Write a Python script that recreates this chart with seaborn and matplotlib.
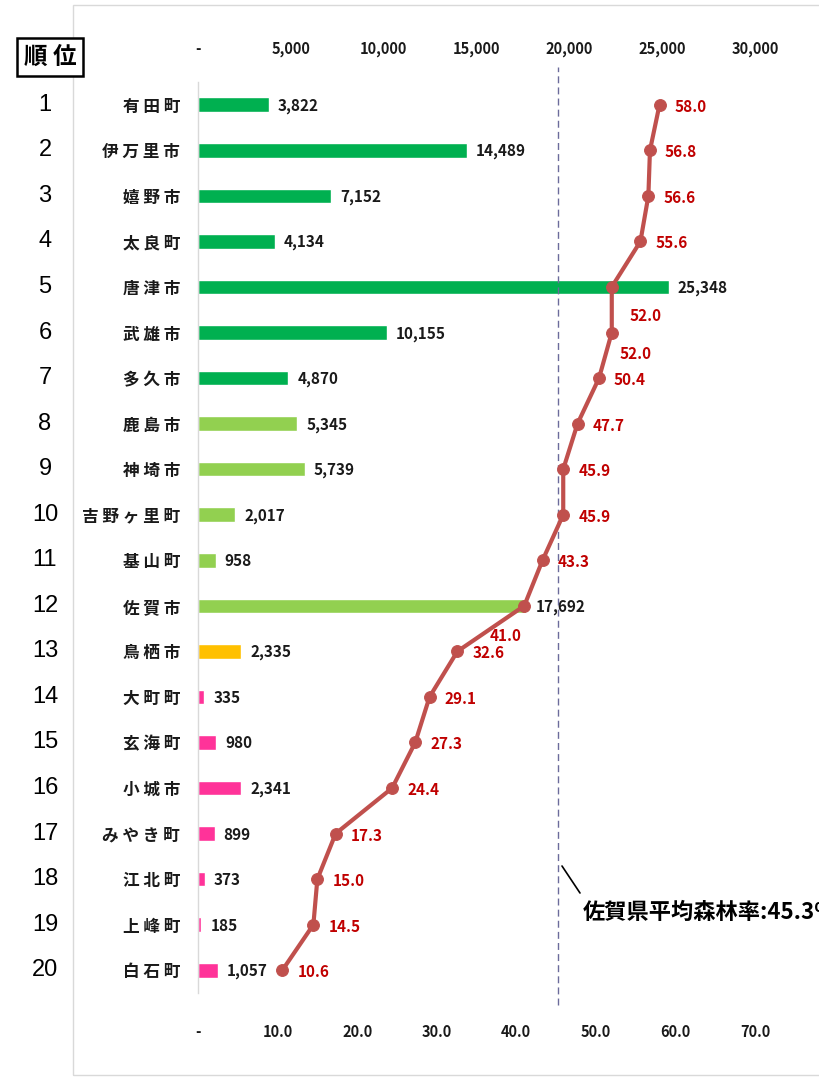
"""
Forest rate ranking of Saga municipalities
bars = forest area (ha, top axis), line = forest rate (%, bottom axis)
"""
import matplotlib
matplotlib.use("Agg")
import matplotlib.pyplot as plt
import matplotlib.transforms as mtransforms
from matplotlib.patches import Rectangle
from matplotlib.lines import Line2D
from matplotlib.ticker import FuncFormatter
import seaborn as sns
import pandas as pd

# Data
ranks = list(range(1, 21))
names = ["有田町", "伊万里市", "嬉野市", "太良町", "唐津市", "武雄市", "多久市",
         "鹿島市", "神埼市", "吉野ヶ里町", "基山町", "佐賀市", "鳥栖市", "大町町",
         "玄海町", "小城市", "みやき町", "江北町", "上峰町", "白石町"]
forest_area = [3822, 14489, 7152, 4134, 25348, 10155, 4870, 5345, 5739, 2017,
               958, 17692, 2335, 335, 980, 2341, 899, 373, 185, 1057]
forest_rate = [58.0, 56.8, 56.6, 55.6, 52.0, 52.0, 50.4, 47.7, 45.9, 45.9,
               43.3, 41.0, 32.6, 29.1, 27.3, 24.4, 17.3, 15.0, 14.5, 10.6]
group = ["a"] * 7 + ["b"] * 5 + ["c"] + ["d"] * 7
avg_rate = 45.3
area_ticks = [0, 5000, 10000, 15000, 20000, 25000, 30000]
rate_ticks = [0, 10, 20, 30, 40, 50, 60, 70]

# Styles
group_colors = {"a": "#00B050", "b": "#92D050", "c": "#FFC000", "d": "#FF3399"}
line_color = "#C0504D"
rate_label_color = "#C00000"
# special label offsets in pixels (dx, dy, ha) for crowded points
rate_label_offsets = {4: (18, -29, "left"), 5: (8, -21, "left"), 11: (-3, -30, "right")}

sns.set_theme(style="white")
plt.rcParams["font.family"] = ["Noto Sans CJK JP", "DejaVu Sans"]

df = pd.DataFrame({"name": names, "area": forest_area, "rate": forest_rate,
                   "group": group, "pos": range(len(names))})

W, H = 820, 1079
fig = plt.figure(figsize=(W / 100, H / 100), dpi=100)
ax = fig.add_axes([198 / W, 1 - 993 / H, (755 - 198) / W, (993 - 82) / H])
ax2 = ax.twiny()

# line for forest rate on bottom axis (drawn first, y axis is shared)
ax2.set_xlim(0, 70)
ax2.axvline(avg_rate, ymin=-0.013, ymax=1.016, color="#6B6B9B", lw=1,
            ls=(0, (5, 3)), clip_on=False, zorder=1)
sns.lineplot(data=df, x="rate", y="pos", sort=False, estimator=None, orient="y",
             color=line_color, lw=3, marker="o", markersize=8.5,
             markeredgecolor=line_color, ax=ax2, zorder=3)
ax2.xaxis.tick_bottom()
ax2.set_xticks(rate_ticks)
ax2.xaxis.set_major_formatter(FuncFormatter(lambda v, p: "-" if v == 0 else f"{v:.1f}"))
ax2.tick_params(axis="x", length=0, pad=22, labelsize=10.5)
for lab in ax2.get_xticklabels():
    lab.set_fontweight("bold")
    lab.set_color("#1a1a1a")
ax2.set_xlabel("")
ax2.set_ylabel("")
for s in ax2.spines.values():
    s.set_visible(False)

for i, v in enumerate(forest_rate):
    dx, dy, ha = rate_label_offsets.get(i, (15, -2, "left"))
    ax2.annotate(f"{v:.1f}", (v, i), xytext=(dx, dy), textcoords="offset pixels",
                 ha=ha, va="center", fontsize=11, fontweight="bold",
                 color=rate_label_color, zorder=4)

# bars for forest area on top axis
sns.barplot(data=df, x="area", y="name", hue="group", palette=group_colors,
            orient="h", width=0.32, legend=False, ax=ax, saturation=1)
ax.set_xlim(0, 30000)
ax.set_ylim(19.5, -0.5)
ax.set_xlabel("")
ax.set_ylabel("")
ax.xaxis.tick_top()
ax.set_xticks(area_ticks)
ax.xaxis.set_major_formatter(FuncFormatter(lambda v, p: "-" if v == 0 else f"{int(v):,}"))
# spaced-out municipality names like the original
ax.set_yticks(range(len(names)))
ax.set_yticklabels([" ".join(n) for n in names])
ax.tick_params(axis="x", length=0, pad=18, labelsize=10.5)
ax.tick_params(axis="y", length=0, pad=13, labelsize=12)
for lab in ax.get_xticklabels() + ax.get_yticklabels():
    lab.set_fontweight("bold")
    lab.set_color("#1a1a1a")
for s in ["top", "right", "bottom"]:
    ax.spines[s].set_visible(False)
ax.spines["left"].set_color("#D9D9D9")
ax.spines["left"].set_linewidth(1)

for i, v in enumerate(forest_area):
    ax.annotate(f"{v:,}", (v, i), xytext=(9, -1), textcoords="offset pixels",
                ha="left", va="center", fontsize=11, fontweight="bold", color="#1a1a1a")

# rank numbers on the left
trans = mtransforms.blended_transform_factory(fig.transFigure, ax.transData)
for i, r in enumerate(ranks):
    fig.text(45 / W, i, str(r), transform=trans, ha="center", va="center",
             fontsize=17, color="black", family="Liberation Sans")
fig.text(50 / W, 1 - 57 / H, "順 位", ha="center", va="center", fontsize=17,
         fontweight="bold", color="black",
         bbox=dict(boxstyle="square,pad=0.3", fc="white", ec="black", lw=1.8))

# average annotation
fig.add_artist(Line2D([562 / W, 580 / W], [1 - 866 / H, 1 - 893 / H],
                      color="black", lw=1.2))
fig.text(583 / W, 1 - 912 / H, "佐賀県平均森林率:45.3%", ha="left", va="center",
         fontsize=16, fontweight="bold", color="black")

# chart area border
fig.add_artist(Rectangle((73 / W, 4 / H), 1.2, 1 - 9 / H, fill=False,
                         ec="#D9D9D9", lw=1, transform=fig.transFigure))

fig.savefig("out.png", dpi=100)
